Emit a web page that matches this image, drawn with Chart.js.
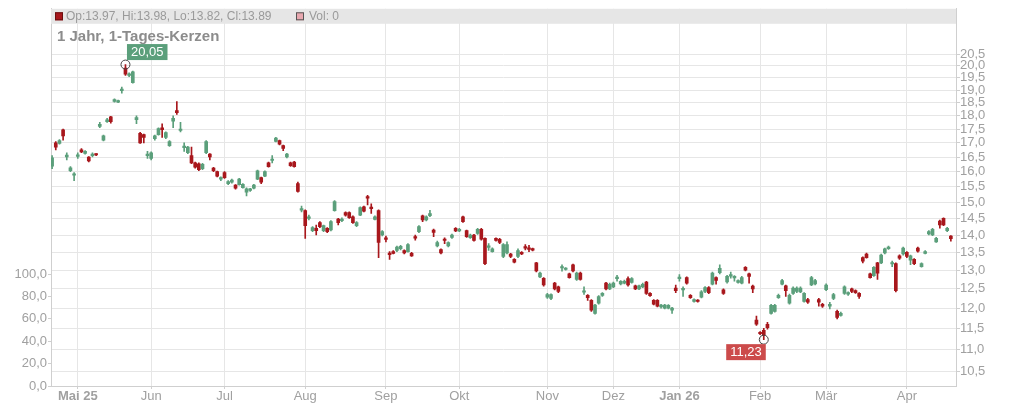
<!DOCTYPE html>
<html lang="de">
<head>
<meta charset="UTF-8">
<title>1 Jahr, 1-Tages-Kerzen</title>
<script src="https://cdn.jsdelivr.net/npm/chart.js"></script>
<style>
    html, body { margin: 0; padding: 0; background: #fff; }
    .chart-box { position: relative; width: 1024px; height: 409px; }
</style>
</head>
<body>
<div class="chart-box"><canvas id="kursChart"></canvas></div>
<script>
// daily candles, one entry per trading day
const openPrices = [
    16.19, 17.0, 16.98, 17.47, 16.5, 16.03, 15.88, 16.52, 16.75, 16.63,
    16.5, 16.55, 16.6, 17.6, 17.1, 17.78, 17.96, 18.55, 18.52, 18.98,
    19.9, 19.6, 19.3, 17.85, 17.35, 17.3, 16.55, 16.45, 17.15, 17.3,
    17.55, 17.2, 16.9, 17.8, 18.2, 17.45, 16.83, 16.65, 16.55, 16.3,
    16.27, 16.1, 16.65, 16.6, 16.12, 16.0, 15.75, 15.97, 15.6, 15.65,
    15.55, 15.57, 15.47, 15.32, 15.38, 15.45, 15.75, 15.8, 15.85, 16.3,
    16.38, 17.05, 17.08, 16.9, 16.5, 16.3, 16.33, 15.6, 14.75, 14.74,
    14.5, 14.13, 14.2, 14.37, 14.13, 14.2, 14.15, 14.74, 14.48, 14.43,
    14.68, 14.68, 14.55, 14.28, 14.6, 14.86, 15.15, 14.85, 14.47, 14.74,
    14.0, 13.9, 13.48, 13.52, 13.55, 13.6, 13.55, 13.52, 13.47, 13.93,
    14.1, 14.58, 14.45, 14.58, 14.15, 13.68, 13.58, 13.86, 13.68, 13.93,
    14.2, 14.12, 14.55, 14.13, 13.92, 14.0, 14.05, 14.17, 13.9, 13.64,
    13.52, 13.9, 13.87, 13.38, 13.48, 13.45, 13.3, 13.38, 13.5, 13.65,
    13.63, 13.6, 13.2, 12.82, 12.78, 12.28, 12.25, 12.65, 12.55, 13.06,
    13.02, 12.9, 13.15, 12.75, 12.92, 12.41, 12.33, 12.2, 11.87, 12.13,
    12.33, 12.65, 12.5, 12.55, 12.77, 12.63, 12.65, 12.77, 12.67, 12.58,
    12.5, 12.55, 12.68, 12.38, 12.2, 12.2, 12.03, 12.0, 12.0, 11.95,
    12.52, 12.77, 12.47, 12.8, 12.33, 12.17, 12.2, 12.28, 12.43, 12.53,
    12.62, 12.8, 12.93, 12.47, 12.68, 12.84, 12.79, 12.67, 12.65, 13.08,
    12.9, 12.57, 11.7, 11.4, 11.45, 11.6, 11.87, 11.92, 12.27, 12.62,
    12.58, 12.13, 12.38, 12.43, 12.42, 12.17, 12.22, 12.6, 12.63, 12.22,
    12.1, 12.48, 12.05, 12.25, 11.92, 11.82, 12.38, 12.36, 12.5, 12.45,
    12.38, 13.35, 13.45, 12.9, 12.85, 13.2, 13.2, 13.48, 13.6, 13.17,
    13.18, 13.4, 13.45, 13.5, 13.28, 13.3, 13.62, 13.1, 13.47, 14.03,
    14.0, 13.8, 14.42, 14.5, 14.13, 13.97
];
const highPrices = [
    16.55, 17.05, 17.12, 17.5, 16.65, 16.17, 15.97, 16.65, 16.8, 16.73,
    16.52, 16.65, 16.62, 17.75, 17.28, 17.9, 17.98, 18.65, 18.6, 19.12,
    20.05, 19.7, 19.78, 18.0, 17.38, 17.32, 16.7, 16.68, 17.28, 17.55,
    17.7, 17.4, 17.08, 18.0, 18.55, 17.75, 17.0, 16.88, 16.85, 16.33,
    16.3, 16.28, 17.08, 16.62, 16.15, 16.02, 15.83, 16.0, 15.7, 15.75,
    15.57, 15.78, 15.6, 15.46, 15.45, 15.58, 16.05, 15.82, 16.03, 16.33,
    16.55, 17.2, 17.1, 16.92, 16.63, 16.33, 16.35, 15.65, 14.88, 14.76,
    14.6, 14.25, 14.3, 14.4, 14.3, 14.22, 14.43, 15.05, 14.5, 14.52,
    14.7, 14.7, 14.58, 14.4, 14.86, 14.88, 15.22, 14.95, 14.58, 14.76,
    14.13, 13.97, 13.52, 13.55, 13.68, 13.7, 13.57, 13.75, 13.5, 14.0,
    14.28, 14.6, 14.58, 14.75, 14.18, 13.82, 13.6, 13.92, 13.8, 14.03,
    14.22, 14.2, 14.57, 14.15, 14.03, 14.02, 14.2, 14.2, 13.92, 13.75,
    13.63, 13.92, 13.9, 13.75, 13.8, 13.47, 13.32, 13.6, 13.52, 13.72,
    13.7, 13.62, 13.22, 12.95, 12.8, 12.38, 12.37, 12.67, 12.57, 13.15,
    13.07, 12.92, 13.17, 12.95, 12.95, 12.55, 12.35, 12.22, 12.1, 12.32,
    12.4, 12.67, 12.65, 12.68, 12.86, 12.72, 12.73, 12.82, 12.8, 12.6,
    12.6, 12.65, 12.7, 12.4, 12.22, 12.22, 12.1, 12.1, 12.09, 12.02,
    12.6, 12.88, 12.55, 12.82, 12.35, 12.24, 12.22, 12.45, 12.56, 12.56,
    12.95, 12.82, 13.15, 12.5, 12.86, 12.95, 12.85, 12.74, 12.83, 13.1,
    12.92, 12.6, 11.8, 11.42, 11.5, 11.65, 12.1, 12.1, 12.36, 12.75,
    12.6, 12.36, 12.55, 12.55, 12.55, 12.4, 12.25, 12.83, 12.75, 12.25,
    12.12, 12.63, 12.15, 12.38, 11.95, 11.9, 12.58, 12.42, 12.52, 12.47,
    12.4, 13.37, 13.48, 12.92, 13.1, 13.22, 13.45, 13.62, 13.68, 13.25,
    13.2, 13.43, 13.65, 13.52, 13.42, 13.32, 13.65, 13.2, 13.55, 14.13,
    14.2, 13.93, 14.45, 14.52, 14.23, 13.98
];
const lowPrices = [
    16.1, 16.75, 16.95, 17.1, 16.4, 16.0, 15.7, 16.45, 16.65, 16.6,
    16.33, 16.5, 16.55, 17.55, 17.07, 17.75, 17.72, 18.52, 18.5, 18.88,
    19.6, 19.55, 19.28, 17.7, 16.98, 17.0, 16.45, 16.4, 17.1, 17.28,
    17.2, 17.15, 16.87, 17.55, 18.05, 17.4, 16.7, 16.62, 16.27, 16.12,
    16.03, 16.07, 16.62, 16.4, 16.0, 15.82, 15.7, 15.77, 15.57, 15.62,
    15.42, 15.55, 15.45, 15.2, 15.35, 15.43, 15.73, 15.6, 15.83, 16.15,
    16.3, 17.03, 16.93, 16.72, 16.47, 16.18, 16.15, 15.32, 14.7, 13.9,
    14.45, 14.1, 14.0, 14.22, 14.1, 14.07, 14.12, 14.72, 14.3, 14.4,
    14.57, 14.5, 14.35, 14.25, 14.58, 14.7, 14.92, 14.65, 14.45, 13.35,
    13.97, 13.8, 13.3, 13.45, 13.52, 13.57, 13.45, 13.5, 13.38, 13.85,
    14.07, 14.4, 14.42, 14.55, 13.95, 13.65, 13.45, 13.75, 13.65, 13.9,
    14.1, 14.1, 14.38, 13.93, 13.9, 13.82, 14.02, 13.85, 13.15, 13.55,
    13.5, 13.82, 13.75, 13.35, 13.45, 13.35, 13.2, 13.35, 13.43, 13.57,
    13.52, 13.54, 12.95, 12.8, 12.57, 12.25, 12.22, 12.47, 12.4, 12.97,
    13.0, 12.78, 12.95, 12.72, 12.73, 12.35, 12.2, 11.92, 11.85, 12.1,
    12.3, 12.47, 12.48, 12.53, 12.7, 12.6, 12.63, 12.57, 12.65, 12.48,
    12.48, 12.53, 12.35, 12.3, 12.08, 12.03, 12.0, 11.98, 11.98, 11.87,
    12.4, 12.7, 12.3, 12.62, 12.25, 12.15, 12.15, 12.26, 12.4, 12.37,
    12.6, 12.62, 12.9, 12.35, 12.65, 12.78, 12.7, 12.65, 12.63, 12.98,
    12.65, 12.4, 11.57, 11.35, 11.23, 11.48, 11.85, 11.9, 12.25, 12.6,
    12.3, 12.1, 12.35, 12.4, 12.4, 12.15, 12.12, 12.58, 12.6, 12.05,
    12.02, 12.45, 11.98, 12.22, 11.73, 11.8, 12.35, 12.33, 12.4, 12.38,
    12.25, 13.2, 13.33, 12.78, 12.83, 12.75, 13.18, 13.45, 13.58, 13.1,
    12.42, 13.3, 13.42, 13.35, 13.15, 13.15, 13.5, 13.08, 13.45, 14.0,
    13.98, 13.78, 14.2, 14.28, 14.1, 13.82
];
const closePrices = [
    16.47, 16.85, 17.08, 17.25, 16.57, 16.13, 15.92, 16.58, 16.68, 16.7,
    16.37, 16.6, 16.57, 17.68, 17.25, 17.85, 17.78, 18.62, 18.58, 19.0,
    19.65, 19.65, 19.75, 17.93, 17.0, 17.2, 16.6, 16.65, 17.25, 17.52,
    17.48, 17.37, 17.05, 17.9, 18.12, 17.5, 16.87, 16.85, 16.3, 16.15,
    16.07, 16.25, 17.05, 16.5, 16.03, 15.85, 15.8, 15.8, 15.67, 15.72,
    15.45, 15.75, 15.58, 15.43, 15.42, 15.55, 16.03, 15.65, 16.0, 16.17,
    16.42, 17.17, 16.95, 16.8, 16.6, 16.2, 16.17, 15.35, 14.8, 14.28,
    14.55, 14.22, 14.13, 14.25, 14.28, 14.1, 14.4, 15.02, 14.37, 14.46,
    14.6, 14.52, 14.37, 14.37, 14.83, 14.72, 15.13, 14.8, 14.55, 13.78,
    14.1, 13.87, 13.43, 13.47, 13.65, 13.67, 13.48, 13.72, 13.4, 13.91,
    14.25, 14.45, 14.55, 14.65, 14.08, 13.78, 13.48, 13.84, 13.78, 14.0,
    14.12, 14.17, 14.4, 13.95, 14.0, 13.84, 14.17, 13.88, 13.18, 13.66,
    13.6, 13.84, 13.78, 13.72, 13.72, 13.38, 13.22, 13.55, 13.45, 13.62,
    13.58, 13.56, 12.98, 12.92, 12.6, 12.35, 12.35, 12.5, 12.43, 13.08,
    13.05, 12.8, 12.98, 12.92, 12.75, 12.43, 12.27, 11.95, 12.08, 12.3,
    12.38, 12.5, 12.62, 12.65, 12.79, 12.7, 12.7, 12.6, 12.77, 12.5,
    12.58, 12.62, 12.38, 12.32, 12.1, 12.05, 12.08, 12.08, 12.07, 12.0,
    12.45, 12.79, 12.49, 12.65, 12.27, 12.22, 12.17, 12.42, 12.53, 12.4,
    12.92, 12.72, 13.05, 12.38, 12.83, 12.86, 12.81, 12.72, 12.8, 13.0,
    12.83, 12.5, 11.6, 11.37, 11.33, 11.52, 12.07, 12.07, 12.33, 12.72,
    12.45, 12.33, 12.52, 12.52, 12.52, 12.38, 12.15, 12.8, 12.72, 12.15,
    12.05, 12.6, 12.1, 12.35, 11.77, 11.87, 12.55, 12.38, 12.43, 12.4,
    12.3, 13.25, 13.35, 12.8, 13.08, 12.92, 13.42, 13.6, 13.65, 13.19,
    12.45, 13.33, 13.62, 13.38, 13.4, 13.18, 13.53, 13.18, 13.52, 14.1,
    14.17, 13.9, 14.3, 14.3, 14.2, 13.89
];

// candle index of the first trading day in each month
const monthTickIdx = [7, 27, 47, 69, 91, 111, 135, 153, 171, 193, 211, 233];
const monthLabels = ['Mai 25', 'Jun', 'Jul', 'Aug', 'Sep', 'Okt', 'Nov', 'Dez', 'Jan 26', 'Feb', 'Mär', 'Apr'];
const priceTicks = [10.5, 11.0, 11.5, 12.0, 12.5, 13.0, 13.5, 14.0, 14.5, 15.0, 15.5, 16.0, 16.5, 17.0, 17.5, 18.0, 18.5, 19.0, 19.5, 20.0, 20.5];
const volumeTicks = [0, 20, 40, 60, 80, 100];
const lastQuote = { op: 13.97, hi: 13.98, lo: 13.82, cl: 13.89, vol: 0 };

const GREEN = '#5b9f7b';
const RED = '#a8171c';
const FONT = '"Liberation Sans", Arial, sans-serif';
const TICK_GREY = '#a0a0a0';

const deComma = (v, d) => v.toFixed(d).replace('.', ',');

const candleColors = openPrices.map((o, i) => closePrices[i] >= o ? GREEN : RED);
const bodyData = openPrices.map((o, i) => ({ x: i, y: [o, closePrices[i]] }));
const wickData = openPrices.map((o, i) => ({ x: i, y: [lowPrices[i], highPrices[i]] }));

// legend band, title and the high / low markers
const overlayPlugin = {
    id: 'overlay',
    beforeDatasetsDraw(chart) {
        const { ctx, chartArea } = chart;
        ctx.save();
        ctx.fillStyle = '#e6e6e6';
        ctx.fillRect(chartArea.left, chartArea.top, chartArea.right - chartArea.left, 15);
        const y = chartArea.top + 7.5;
        ctx.fillStyle = '#a8171c';
        ctx.strokeStyle = '#6a1010';
        ctx.fillRect(chartArea.left + 4, y - 4, 8, 8);
        ctx.strokeRect(chartArea.left + 4.5, y - 3.5, 7, 7);
        ctx.fillStyle = '#e8a8b0';
        ctx.strokeStyle = '#555';
        ctx.fillRect(chartArea.left + 245, y - 4, 8, 8);
        ctx.strokeRect(chartArea.left + 245.5, y - 3.5, 7, 7);
        ctx.font = '12px ' + FONT;
        ctx.fillStyle = '#9a9a9a';
        ctx.textBaseline = 'middle';
        ctx.fillText('Op:' + lastQuote.op.toFixed(2) + ', Hi:' + lastQuote.hi.toFixed(2) +
            ', Lo:' + lastQuote.lo.toFixed(2) + ', Cl:' + lastQuote.cl.toFixed(2), chartArea.left + 15, y + 0.5);
        ctx.fillText('Vol: ' + lastQuote.vol, chartArea.left + 258, y + 0.5);
        ctx.font = 'bold 15px ' + FONT;
        ctx.fillStyle = '#8c8c8c';
        ctx.fillText('1 Jahr, 1-Tages-Kerzen', chartArea.left + 6, chartArea.top + 28);
        ctx.restore();
    },
    afterDatasetsDraw(chart) {
        const { ctx } = chart;
        const xs = chart.scales.x, ys = chart.scales.y;
        const hiIdx = highPrices.indexOf(Math.max(...highPrices));
        const loIdx = lowPrices.indexOf(Math.min(...lowPrices));
        const marks = [
            { i: hiIdx, v: highPrices[hiIdx], color: '#5b9f7b', up: true },
            { i: loIdx, v: lowPrices[loIdx], color: '#cc4b4b', up: false }
        ];
        ctx.save();
        ctx.font = '13px ' + FONT;
        ctx.textBaseline = 'middle';
        marks.forEach(m => {
            const px = xs.getPixelForValue(m.i);
            const py = ys.getPixelForValue(m.v);
            ctx.beginPath();
            ctx.arc(px, py, 4.5, 0, Math.PI * 2);
            ctx.strokeStyle = '#444';
            ctx.lineWidth = 1;
            ctx.stroke();
            const label = deComma(m.v, 2);
            const w = ctx.measureText(label).width + 8;
            const h = 16;
            const bx = m.up ? px + 1.5 : px + 2 - w;
            const by = m.up ? py - 4.5 - h : py + 4.5;
            ctx.fillStyle = m.color;
            ctx.fillRect(bx, by, w, h);
            ctx.fillStyle = '#fff';
            ctx.textAlign = 'center';
            ctx.fillText(label, bx + w / 2, by + h / 2 + 0.5);
        });
        ctx.restore();
    }
};

const ctx = document.getElementById('kursChart').getContext('2d');
new Chart(ctx, {
    type: 'bar',
    data: {
        datasets: [
            {
                label: 'Body',
                data: bodyData,
                backgroundColor: candleColors,
                barThickness: 3,
                minBarLength: 1.5,
                grouped: false,
                order: 1,
                yAxisID: 'y'
            },
            {
                label: 'Docht',
                data: wickData,
                backgroundColor: candleColors,
                barThickness: 1,
                grouped: false,
                order: 2,
                yAxisID: 'y'
            }
        ]
    },
    options: {
        responsive: true,
        maintainAspectRatio: false,
        animation: false,
        layout: { padding: { top: 8, left: 0, right: 0, bottom: 0 } },
        plugins: {
            legend: { display: false },
            tooltip: { enabled: false }
        },
        scales: {
            x: {
                type: 'linear',
                offset: false,
                min: -0.3,
                max: 246.4,
                afterBuildTicks: s => { s.ticks = monthTickIdx.map(v => ({ value: v })); },
                afterFit: s => { s.height = 23; },
                grid: { offset: false, color: '#e6e6e6', tickLength: 3, tickColor: '#d0d0d0' },
                border: { color: '#cfcfcf' },
                ticks: {
                    autoSkip: false,
                    maxRotation: 0,
                    padding: 0,
                    color: TICK_GREY,
                    font: c => ({ family: FONT, size: 13, weight: /\d/.test(monthLabels[c.index] || '') ? 'bold' : 'normal' }),
                    callback: (v, i) => monthLabels[i]
                }
            },
            yVol: {
                type: 'linear',
                position: 'left',
                min: 0,
                max: 337,
                afterBuildTicks: s => { s.ticks = volumeTicks.map(v => ({ value: v })); },
                afterFit: s => { s.width = 51; },
                grid: { drawOnChartArea: false, tickLength: 3, tickColor: '#cfcfcf' },
                border: { color: '#cfcfcf' },
                ticks: {
                    padding: 1,
                    color: TICK_GREY,
                    font: { family: FONT, size: 13 },
                    callback: v => deComma(v, 1)
                }
            },
            y: {
                type: 'logarithmic',
                position: 'right',
                min: 10.185,
                max: 22.55,
                afterBuildTicks: s => { s.ticks = priceTicks.map(v => ({ value: v })); },
                afterFit: s => { s.width = 68; },
                grid: { color: '#e6e6e6', tickLength: 4, tickColor: '#cfcfcf' },
                border: { color: '#cfcfcf' },
                ticks: {
                    padding: 0,
                    color: TICK_GREY,
                    font: { family: FONT, size: 13 },
                    callback: v => deComma(v, 1)
                }
            }
        }
    },
    plugins: [overlayPlugin]
});
</script>
</body>
</html>
